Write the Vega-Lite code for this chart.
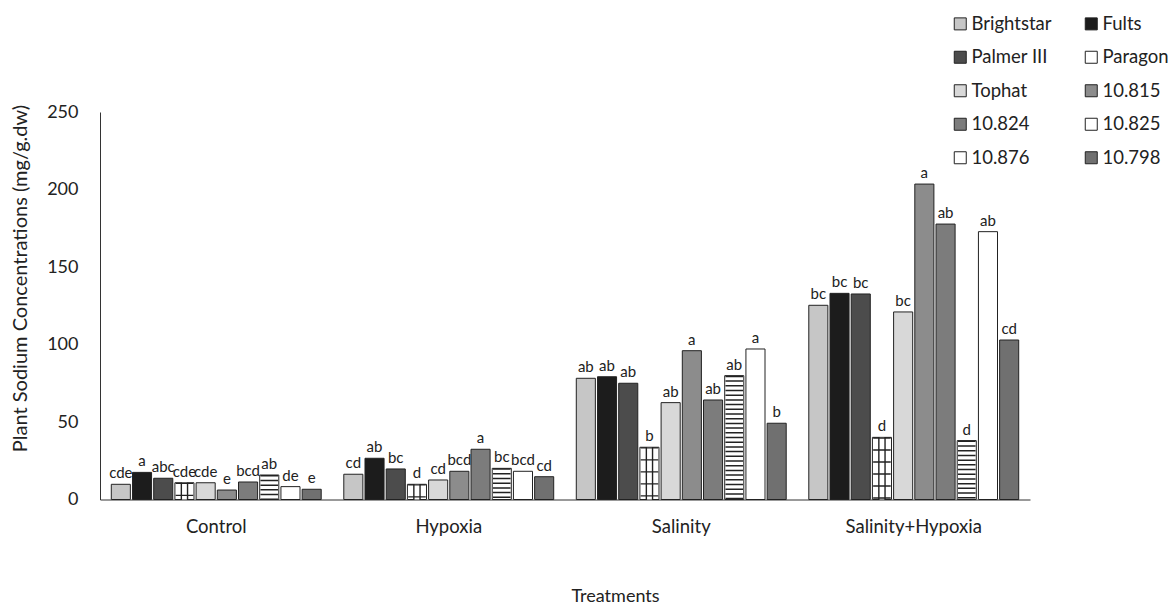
{
  "$schema": "https://vega.github.io/schema/vega-lite/v6.json",
  "width": 930,
  "height": 387.5,
  "autosize": {"type": "none"},
  "padding": {"left": 100, "top": 112, "right": 140, "bottom": 106.5},
  "config": {
    "font": "Lato",
    "view": {"stroke": null},
    "axis": {"labelColor": "#222", "titleColor": "#222", "titleFontWeight": "normal", "ticks": false, "grid": false}
  },
  "data": {
    "values": [
      {"treatment": "Control", "cultivar": "Brightstar", "sodium": 9.8, "group": "cde"},
      {"treatment": "Control", "cultivar": "Fults", "sodium": 17.5, "group": "a"},
      {"treatment": "Control", "cultivar": "Palmer III", "sodium": 13.7, "group": "abc"},
      {"treatment": "Control", "cultivar": "Paragon", "sodium": 10.8, "group": "cde"},
      {"treatment": "Control", "cultivar": "Tophat", "sodium": 10.8, "group": "cde"},
      {"treatment": "Control", "cultivar": "10.815", "sodium": 6.1, "group": "e"},
      {"treatment": "Control", "cultivar": "10.824", "sodium": 11.3, "group": "bcd"},
      {"treatment": "Control", "cultivar": "10.825", "sodium": 15.8, "group": "ab"},
      {"treatment": "Control", "cultivar": "10.876", "sodium": 8.3, "group": "de"},
      {"treatment": "Control", "cultivar": "10.798", "sodium": 6.6, "group": "e"},
      {"treatment": "Hypoxia", "cultivar": "Brightstar", "sodium": 16.3, "group": "cd"},
      {"treatment": "Hypoxia", "cultivar": "Fults", "sodium": 26.6, "group": "ab"},
      {"treatment": "Hypoxia", "cultivar": "Palmer III", "sodium": 19.7, "group": "bc"},
      {"treatment": "Hypoxia", "cultivar": "Paragon", "sodium": 9.8, "group": "d"},
      {"treatment": "Hypoxia", "cultivar": "Tophat", "sodium": 12.6, "group": "cd"},
      {"treatment": "Hypoxia", "cultivar": "10.815", "sodium": 18.2, "group": "bcd"},
      {"treatment": "Hypoxia", "cultivar": "10.824", "sodium": 32.4, "group": "a"},
      {"treatment": "Hypoxia", "cultivar": "10.825", "sodium": 20.1, "group": "bc"},
      {"treatment": "Hypoxia", "cultivar": "10.876", "sodium": 18.2, "group": "bcd"},
      {"treatment": "Hypoxia", "cultivar": "10.798", "sodium": 14.7, "group": "cd"},
      {"treatment": "Salinity", "cultivar": "Brightstar", "sodium": 78.2, "group": "ab"},
      {"treatment": "Salinity", "cultivar": "Fults", "sodium": 79.2, "group": "ab"},
      {"treatment": "Salinity", "cultivar": "Palmer III", "sodium": 75.0, "group": "ab"},
      {"treatment": "Salinity", "cultivar": "Paragon", "sodium": 33.7, "group": "b"},
      {"treatment": "Salinity", "cultivar": "Tophat", "sodium": 62.5, "group": "ab"},
      {"treatment": "Salinity", "cultivar": "10.815", "sodium": 96.0, "group": "a"},
      {"treatment": "Salinity", "cultivar": "10.824", "sodium": 64.2, "group": "ab"},
      {"treatment": "Salinity", "cultivar": "10.825", "sodium": 79.9, "group": "ab"},
      {"treatment": "Salinity", "cultivar": "10.876", "sodium": 97.1, "group": "a"},
      {"treatment": "Salinity", "cultivar": "10.798", "sodium": 49.2, "group": "b"},
      {"treatment": "Salinity+Hypoxia", "cultivar": "Brightstar", "sodium": 125.3, "group": "bc"},
      {"treatment": "Salinity+Hypoxia", "cultivar": "Fults", "sodium": 133.0, "group": "bc"},
      {"treatment": "Salinity+Hypoxia", "cultivar": "Palmer III", "sodium": 132.6, "group": "bc"},
      {"treatment": "Salinity+Hypoxia", "cultivar": "Paragon", "sodium": 40.1, "group": "d"},
      {"treatment": "Salinity+Hypoxia", "cultivar": "Tophat", "sodium": 121.0, "group": "bc"},
      {"treatment": "Salinity+Hypoxia", "cultivar": "10.815", "sodium": 203.5, "group": "a"},
      {"treatment": "Salinity+Hypoxia", "cultivar": "10.824", "sodium": 177.7, "group": "ab"},
      {"treatment": "Salinity+Hypoxia", "cultivar": "10.825", "sodium": 38.0, "group": "d"},
      {"treatment": "Salinity+Hypoxia", "cultivar": "10.876", "sodium": 172.8, "group": "ab"},
      {"treatment": "Salinity+Hypoxia", "cultivar": "10.798", "sodium": 102.9, "group": "cd"}
    ]
  },
  "encoding": {
    "x": {
      "field": "treatment",
      "type": "nominal",
      "sort": ["Control", "Hypoxia", "Salinity", "Salinity+Hypoxia"],
      "scale": {"paddingInner": 0.088, "paddingOuter": 0.044},
      "axis": {
        "title": "Treatments",
        "labelAngle": 0,
        "labelFontSize": 18.5,
        "labelPadding": 18,
        "domainColor": "#777",
        "domainWidth": 1.5,
        "titleFontSize": 18,
        "titleX": 515,
        "titleY": 97,
        "titleAlign": "center",
        "titleBaseline": "middle"
      }
    },
    "xOffset": {
      "field": "cultivar",
      "type": "nominal",
      "sort": ["Brightstar", "Fults", "Palmer III", "Paragon", "Tophat", "10.815", "10.824", "10.825", "10.876", "10.798"],
      "scale": {"paddingInner": 0.1, "paddingOuter": 0.05}
    },
    "y": {
      "field": "sodium",
      "type": "quantitative",
      "scale": {"domain": [0, 250], "nice": false},
      "axis": {
        "title": "Plant Sodium Concentrations (mg/g.dw)",
        "values": [0, 50, 100, 150, 200, 250],
        "labelFontSize": 18,
        "labelPadding": 22,
        "domainColor": "#333",
        "titleFontSize": 20,
        "titleAngle": -90,
        "titleX": -80,
        "titleY": 166,
        "titleAlign": "center",
        "titleBaseline": "middle"
      }
    }
  },
  "layer": [
    {
      "mark": {"type": "bar", "stroke": "#222", "strokeWidth": 1},
      "encoding": {
        "fill": {
          "field": "cultivar",
          "type": "nominal",
          "scale": {
            "domain": ["Brightstar", "Palmer III", "Tophat", "10.824", "10.876", "Fults", "Paragon", "10.815", "10.825", "10.798"],
            "range": ["#c6c6c6", "#4c4c4c", "#d8d8d8", "#7c7c7c", "#ffffff", "#1c1c1c", "#ffffff", "#8c8c8c", "#ffffff", "#707070"]
          },
          "legend": {
            "title": null,
            "orient": "none",
            "legendX": 851,
            "legendY": -97.5,
            "columns": 2,
            "columnPadding": 30,
            "rowPadding": 14.5,
            "symbolType": "square",
            "symbolSize": 144,
            "symbolStrokeColor": "#222",
            "symbolStrokeWidth": 1,
            "labelFontSize": 18.5,
            "labelColor": "#222",
            "labelOffset": 2
          }
        }
      }
    },
    {
      "transform": [{"filter": "datum.cultivar === 'Paragon'"}],
      "mark": {"type": "rule", "stroke": "#222", "strokeWidth": 7.6},
      "encoding": {"y2": {"datum": 0}}
    },
    {
      "transform": [{"filter": "datum.cultivar === 'Paragon'"}],
      "mark": {"type": "rule", "stroke": "#ffffff", "strokeWidth": 4.8},
      "encoding": {"y2": {"datum": 0}}
    },
    {
      "transform": [{"filter": "datum.cultivar === 'Paragon' || datum.cultivar === '10.825'"}],
      "mark": {"type": "rule", "stroke": "#222", "strokeWidth": 17.6},
      "encoding": {
        "y2": {"datum": 0},
        "strokeDash": {
          "field": "cultivar",
          "type": "nominal",
          "scale": {"domain": ["Paragon", "10.825"], "range": [[1.3, 10.7], [1.5, 3.2]]},
          "legend": null
        }
      }
    },
    {
      "mark": {"type": "text", "dy": -6, "baseline": "alphabetic", "fontSize": 15, "color": "#222"},
      "encoding": {"text": {"field": "group"}}
    }
  ]
}
